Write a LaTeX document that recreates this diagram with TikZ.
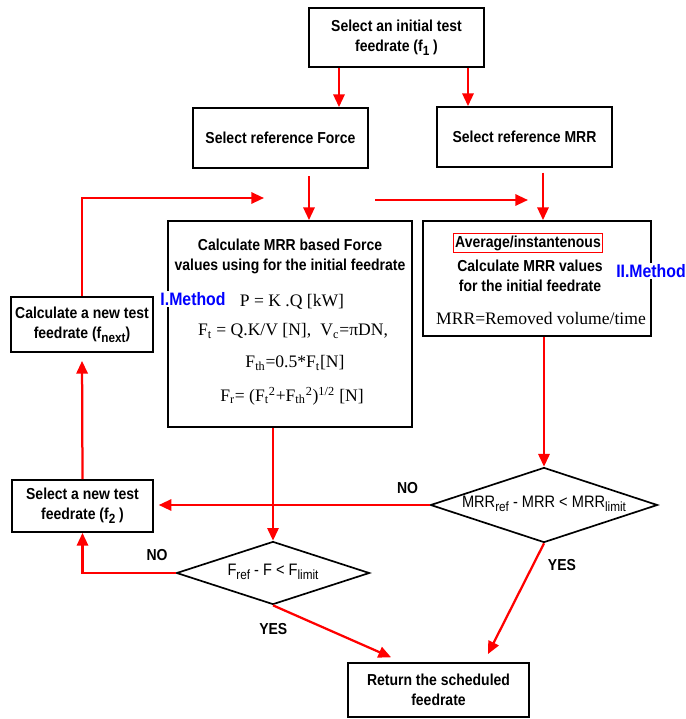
\documentclass[tikz,border=0pt]{standalone}
\usepackage{fontspec}
\setmainfont{Liberation Sans}[FakeStretch=0.88]
\newfontfamily\formfont{Liberation Serif}
\usetikzlibrary{arrows.meta,shapes.geometric}

\newcommand\lowtxt[1]{\raisebox{-0.5ex}{\fontsize{9.5}{10}\selectfont #1}}

\tikzset{
	txt/.style={font=\bfseries\fontsize{11.3}{14.2}\selectfont, align=center, inner sep=0pt},
	box/.style={draw, line width=1.3pt, txt},
	decision/.style={diamond, draw, line width=1.2pt, inner sep=0pt},
	formula/.style={font=\formfont\fontsize{12.5}{14}\selectfont, inner sep=0pt},
	method/.style={text=blue, fill=white, inner sep=1pt, font=\bfseries\fontsize{12.8}{15}\selectfont},
	flow/.style={draw=red, line width=1.6pt, -{Triangle[length=9pt,width=8pt]}},
	answer/.style={font=\bfseries\fontsize{11.3}{13}\selectfont, inner sep=0pt},
	test/.style={font=\fontsize{11.8}{13}\selectfont, inner sep=0pt}
}

\begin{document}
\begin{tikzpicture}[x=0.025cm, y=-0.025cm]
	\useasboundingbox (0,0) rectangle (686,719);
	% boxes
	\node[box, minimum width=4.375cm, minimum height=1.475cm] (init) at (396.5,37.5) {Select an initial test\\feedrate (f\lowtxt{1} )};
	\node[box, minimum width=4.375cm, minimum height=1.5cm] (refF) at (280.5,138) {Select reference Force};
	\node[box, minimum width=4.375cm, minimum height=1.5cm] (refM) at (524.5,137) {Select reference MRR};
	\node[box, minimum width=6.1cm, minimum height=5.15cm] (calcF) at (290,324) {};
	\node[box, minimum width=5.7cm, minimum height=2.875cm] (calcM) at (537,278.5) {};
	\node[box, minimum width=3.55cm, minimum height=1.375cm] (newf) at (82,324.5) {Calculate a new test\\feedrate (f\lowtxt{next})};
	\node[box, minimum width=3.525cm, minimum height=1.3cm] (sel2) at (82.5,506) {Select a new test\\feedrate (f\lowtxt{2} )};
	\node[box, minimum width=4.525cm, minimum height=1.35cm] (ret) at (438.5,690) {Return the scheduled\\feedrate};
	\node[decision, minimum width=5.675cm, minimum height=1.875cm] (decM) at (544,505) {};
	\node[decision, minimum width=4.825cm, minimum height=1.575cm] (decF) at (273,573) {};

	% texts of method I
	\node[txt] (headF) at (290,256) {Calculate MRR based Force\\values using for the initial feedrate};
	\node[method] (m1) at (193,299) {I.Method};
	\node[formula] (eqP) at (292,302) {P = K .Q [kW]};
	\node[formula] (eqFt) at (293,331) {F\textsubscript{t} = Q.K/V [N],\; V\textsubscript{c}=πDN,};
	\node[formula] (eqFth) at (295,363) {F\textsubscript{th}=0.5*F\textsubscript{t}[N]};
	\node[formula] (eqFr) at (292,396) {F\textsubscript{r}= (F\textsubscript{t}\textsuperscript{2}+F\textsubscript{th}\textsuperscript{2})\textsuperscript{1/2} [N]};

	% texts of method II
	\node[txt, draw=red, line width=0.8pt, inner sep=1.5pt] (avg) at (528,243) {Average/instantenous};
	\node[txt] (headM) at (530,276) {Calculate MRR values\\for the initial feedrate};
	\node[formula] (eqM) at (541,318) {MRR=Removed volume/time};
	\node[method] (m2) at (651,271) {II.Method};

	% decisions
	\node[test] (testM) at ([yshift=1pt]decM.center) {MRR\lowtxt{ref} - MRR < MRR\lowtxt{limit}};
	\node[test] (testF) at ([yshift=1pt]decF.center) {F\lowtxt{ref} - F < F\lowtxt{limit}};

	% free ends
	\coordinate (midL) at (375,200);
	\coordinate (midR) at (528,200);
	\coordinate (loopEnd) at (264,198);

	% connectors
	\draw[flow] (init.south -| 339,0) -- (refF.north -| 339,0);
	\draw[flow] (init.south -| 468,0) -- (refM.north -| 468,0);
	\draw[flow, shorten <=0.18cm] (refF.south -| 309,0) -- (calcF.north -| 309,0);
	\draw[flow, shorten <=0.12cm] (refM.south -| 543,0) -- (calcM.north -| 543,0);
	\draw[flow] (midL) -- (midR);
	\draw[flow] (newf.north) |- (loopEnd);
	\draw[flow] (decF.north |- calcF.south) -- (decF.north);
	\draw[flow] (decM.north |- calcM.south) -- (decM.north);
	\draw[flow, shorten >=0.12cm] (decM.west) -- (decM.west -| sel2.east) node[answer, pos=0.08, above=7pt] {NO};
	\draw[flow] (decF.west) -| (sel2.south) node[answer, pos=0.1, above=8pt] {NO};
	\draw[flow, shorten >=0.2cm] (sel2.north) -- (newf.south);
	\draw[flow] (decF.south) -- ([xshift=1.1cm,yshift=0.12cm]ret.north west) node[answer, pos=0.05, below=10pt, xshift=-4pt] {YES};
	\draw[flow] (decM.south) -- ([xshift=-1.05cm,yshift=0.2cm]ret.north east) node[answer, pos=0.2, right=10pt] {YES};
\end{tikzpicture}
\end{document}
